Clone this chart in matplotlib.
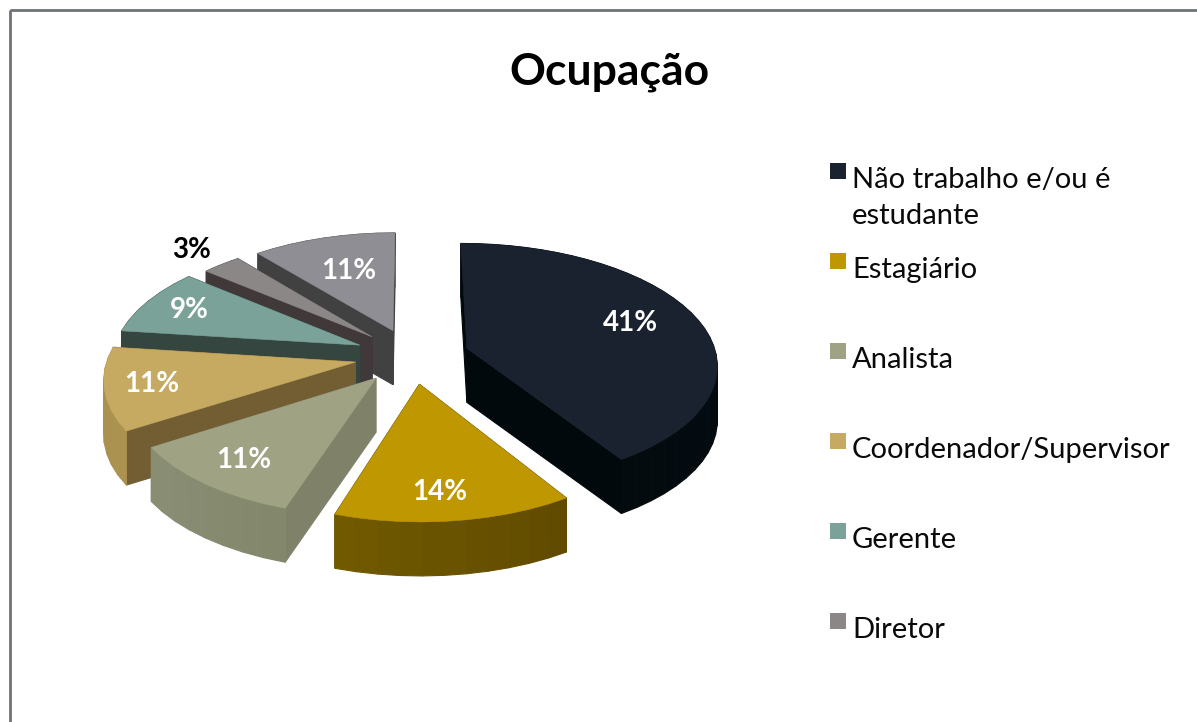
import numpy as np
from matplotlib import pyplot as plt
from matplotlib.colors import to_rgb
from matplotlib.patches import Polygon, Rectangle

plt.rcParams['font.family'] = ['Lato', 'DejaVu Sans']

title = 'Ocupação'
values = [41, 14, 11, 11, 9, 3, 11]
legend_labels = ['Não trabalho e/ou é\nestudante', 'Estagiário', 'Analista',
                 'Coordenador/Supervisor', 'Gerente', 'Diretor']

top_colors = ['#1a2230', '#bf9700', '#9fa283', '#c6aa62', '#7ba298', '#8b8787', '#8f8e94']
cut_colors = ['#02090c', '#5a4400', '#7f8268', '#735d33', '#34463f', '#403839', '#414141']
rim_left = ['#02090c', '#806800', '#8b9076', '#ab9150', '#34463f', '#403839', '#414141']
rim_right = ['#040b10', '#584200', '#75785c', '#b89a55', '#34463f', '#403839', '#414141']
label_colors = ['white', 'white', 'white', 'white', 'white', 'black', 'white']
label_r = [0.75, 0.8, 0.79, 0.84, 0.82, 1.22, 0.62]
label_turn = [-2, 2, 0, 0, 0, 0, 0]
radius_scale = [1.04, 0.99, 1, 1.03, 1.03, 1, 1]

# pie geometry, in pixels
cx, cy = 412, 356
radius = 240
tilt = 0.48
persp = 0.12
depth = 54
explode = 0.24


def project(x, y, z=0):
    s = 1 / (1 - persp * y)
    return cx + x * radius * s, cy + y * radius * tilt * s + z * depth


fig = plt.figure(figsize=(11.97, 7.22), dpi=100)
ax = fig.add_axes([0, 0, 1, 1])
ax.set_xlim(0, 1197)
ax.set_ylim(722, 0)
ax.axis('off')

ax.add_patch(Rectangle((10, 10), 1400, 1000, fill=False, ec='#6f7378', lw=2))
ax.text(609, 72, title, fontsize=32, fontweight='bold', ha='center', va='center')

# build the slices from the values
edges = np.cumsum([0] + values) / sum(values) * 2 * np.pi
slices = []
for i in range(len(values)):
    t0, t1 = edges[i], edges[i + 1]
    mid = (t0 + t1) / 2
    ox, oy = explode * np.sin(mid), -explode * np.cos(mid)
    slices.append((oy, i, t0, t1, mid, ox))

for oy, i, t0, t1, mid, ox in sorted(slices):
    theta = np.linspace(t0, t1, max(int((t1 - t0) * 14), 6))
    xs = ox + radius_scale[i] * np.sin(theta)
    ys = oy - radius_scale[i] * np.cos(theta)

    # walls, back to front
    walls = []
    left = np.array(to_rgb(rim_left[i]))
    right = np.array(to_rgb(rim_right[i]))
    for j in range(len(theta) - 1):
        quad = [project(xs[j], ys[j]), project(xs[j + 1], ys[j + 1]),
                project(xs[j + 1], ys[j + 1], 1), project(xs[j], ys[j], 1)]
        k = (np.sin(theta[j]) + 1) / 2
        colour = left + (right - left) * k
        walls.append(((ys[j] + ys[j + 1]) / 2, quad, colour))
    for xe, ye in [(xs[0], ys[0]), (xs[-1], ys[-1])]:
        quad = [project(ox, oy), project(xe, ye), project(xe, ye, 1), project(ox, oy, 1)]
        walls.append(((oy + ye) / 2, quad, cut_colors[i]))

    for _, quad, colour in sorted(walls, key=lambda w: w[0]):
        ax.add_patch(Polygon(quad, fc=colour, ec=colour, lw=0.8))

    top = [project(ox, oy)] + [project(a, b) for a, b in zip(xs, ys)]
    ax.add_patch(Polygon(top, fc=top_colors[i], ec=top_colors[i], lw=0.4))

    turned = mid + np.radians(label_turn[i])
    lx, ly = project(ox + label_r[i] * np.sin(turned), oy - label_r[i] * np.cos(turned))
    ax.text(lx, ly, f'{values[i]}%', color=label_colors[i], fontsize=20,
            fontweight='bold', ha='center', va='center')

# legend
legend_y = [177, 267, 357, 447, 537, 627]
for label, y, colour in zip(legend_labels, legend_y, top_colors):
    ax.add_patch(Rectangle((830, y - 14), 16, 16, fc=colour, ec='none'))
    ax.text(852, y - 10, label, fontsize=21, ha='left', va='top', linespacing=1.5,
            color='#0a0a0a')

fig.savefig('out.png', dpi=100)
